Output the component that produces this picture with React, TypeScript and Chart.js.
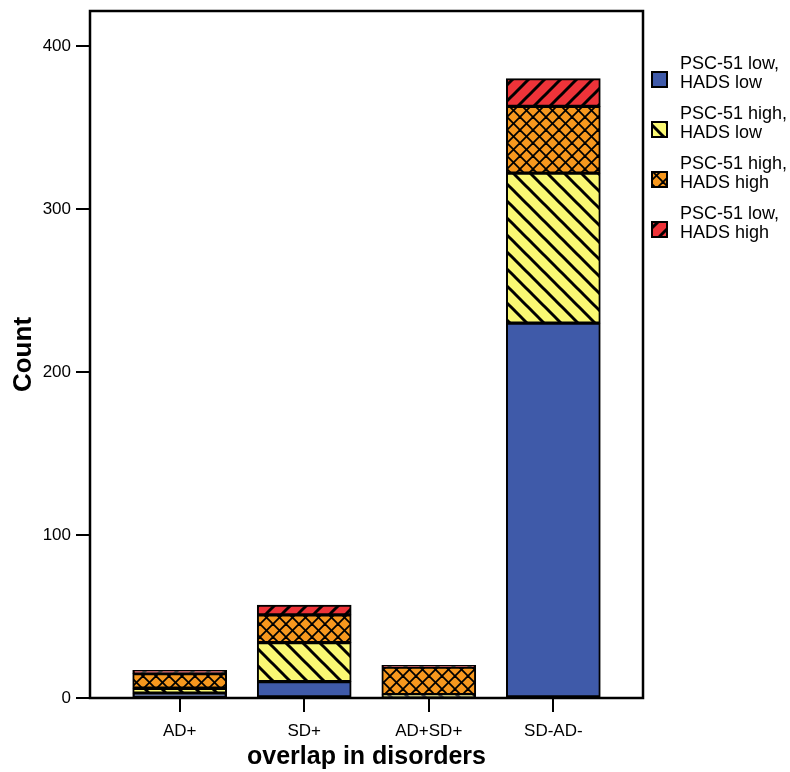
import React, { useEffect, useRef } from "react";
import { Chart, registerables } from "chart.js";

Chart.register(...registerables);

const categories = ["AD+", "SD+", "AD+SD+", "SD-AD-"];
const seriesNames = [
  ["PSC-51 low,", "HADS low"],
  ["PSC-51 high,", "HADS low"],
  ["PSC-51 high,", "HADS high"],
  ["PSC-51 low,", "HADS high"],
];
const lowLow = [3, 10, 0, 230];
const highLow = [3, 24, 2, 92];
const highHigh = [9, 17, 17, 41];
const lowHigh = [2, 6, 1, 17];
const yTickStep = 100;
const xTitle = "overlap in disorders";
const yTitle = "Count";

const FONT = "'Liberation Sans', Arial, Helvetica, sans-serif";

type Kind = "solid" | "back" | "cross" | "fwd";

function makePattern(color: string, kind: Kind, size: number, lw: number): CanvasPattern | string {
  if (kind === "solid") return color;
  const c = document.createElement("canvas");
  c.width = size;
  c.height = size;
  const g = c.getContext("2d")!;
  g.fillStyle = color;
  g.fillRect(0, 0, size, size);
  g.strokeStyle = "#000";
  g.lineWidth = lw;
  g.lineCap = "square";
  for (let k = -1; k <= 1; k++) {
    if (kind === "back" || kind === "cross") {
      g.beginPath();
      g.moveTo(k * size, 0);
      g.lineTo(k * size + size, size);
      g.stroke();
    }
    if (kind === "fwd" || kind === "cross") {
      g.beginPath();
      g.moveTo(k * size, size);
      g.lineTo(k * size + size, 0);
      g.stroke();
    }
  }
  return g.createPattern(c, "repeat")!;
}

export default function App() {
  const ref = useRef<HTMLCanvasElement>(null);
  useEffect(() => {
    if (!ref.current) return;
    const fills = [
      makePattern("#3F5AA9", "solid", 1, 0),
      makePattern("#FAF873", "back", 17, 3),
      makePattern("#F7981E", "cross", 13, 1.8),
      makePattern("#EE3339", "fwd", 16, 3),
    ];
    const series = [lowLow, highLow, highHigh, lowHigh];

    const framePlugin = {
      id: "frame",
      afterDatasetsDraw(chart: any) {
        const { ctx, chartArea } = chart;
        ctx.save();
        ctx.strokeStyle = "#000";
        ctx.lineWidth = 2.5;
        ctx.strokeRect(chartArea.left, chartArea.top, chartArea.right - chartArea.left, chartArea.bottom - chartArea.top);
        ctx.restore();
      },
    };

    const legendPlugin = {
      id: "customLegend",
      afterDraw(chart: any) {
        const { ctx } = chart;
        ctx.save();
        for (let i = 0; i < seriesNames.length; i++) {
          const bx = 652;
          const by = 72 + 50 * i;
          ctx.fillStyle = fills[i] as any;
          ctx.fillRect(bx, by, 15, 15);
          ctx.strokeStyle = "#000";
          ctx.lineWidth = 2;
          ctx.strokeRect(bx, by, 15, 15);
          ctx.fillStyle = "#000";
          ctx.font = `18px ${FONT}`;
          ctx.textBaseline = "alphabetic";
          ctx.textAlign = "left";
          ctx.fillText(seriesNames[i][0], 680, 69 + 50 * i);
          ctx.fillText(seriesNames[i][1], 680, 88 + 50 * i);
        }
        ctx.restore();
      },
    };

    const chart = new Chart(ref.current, {
      type: "bar",
      data: {
        datasets: series.map((vals, si) => ({
          label: seriesNames[si].join(" "),
          data: vals.map((v, i) => ({ x: i, y: v })),
          backgroundColor: fills[si] as any,
          borderColor: "#000",
          borderWidth: 2,
          borderSkipped: false,
          barThickness: 94,
        })),
      },
      options: {
        animation: false,
        responsive: false,
        devicePixelRatio: 1,
        layout: { padding: { top: 11, right: 147, bottom: 0, left: 0 } },
        plugins: { legend: { display: false }, tooltip: { enabled: false } },
        scales: {
          x: {
            type: "linear",
            min: -0.72,
            max: 3.72,
            stacked: true,
            offset: false,
            border: { display: false },
            grid: { offset: false, drawOnChartArea: false, drawTicks: true, tickLength: 14, color: "#000", lineWidth: 2 },
            ticks: {
              stepSize: 1,
              includeBounds: false,
              autoSkip: false,
              maxRotation: 0,
              color: "#000",
              padding: 9,
              font: { size: 17, family: FONT },
              callback: (v: any) => categories[v as number] ?? "",
            },
            title: {
              display: true,
              text: xTitle,
              color: "#000",
              font: { size: 25, weight: "bold", family: FONT },
              padding: { top: 2, bottom: 0 },
            },
            afterFit: (s: any) => {
              s.height = 74;
              s.paddingLeft = 0;
              s.paddingRight = 0;
            },
          },
          y: {
            type: "linear",
            min: 0,
            max: 421.5,
            stacked: true,
            border: { display: false },
            grid: { drawOnChartArea: false, drawTicks: true, tickLength: 14, color: "#000", lineWidth: 2 },
            ticks: {
              stepSize: yTickStep,
              includeBounds: false,
              color: "#000",
              padding: 5,
              font: { size: 17, family: FONT },
            },
            title: {
              display: true,
              text: yTitle,
              color: "#000",
              font: { size: 26, weight: "bold", family: FONT },
              padding: { top: 8, bottom: 0 },
            },
            afterFit: (s: any) => {
              s.width = 90;
              s.paddingTop = 0;
              s.paddingBottom = 0;
            },
          },
        },
      } as any,
      plugins: [framePlugin, legendPlugin],
    });
    return () => chart.destroy();
  }, []);
  return (
    <div style={{ position: "absolute", left: 0, top: 0, width: 790, height: 772, background: "#fff" }}>
      <canvas ref={ref} width={790} height={772} style={{ display: "block" }} />
    </div>
  );
}
